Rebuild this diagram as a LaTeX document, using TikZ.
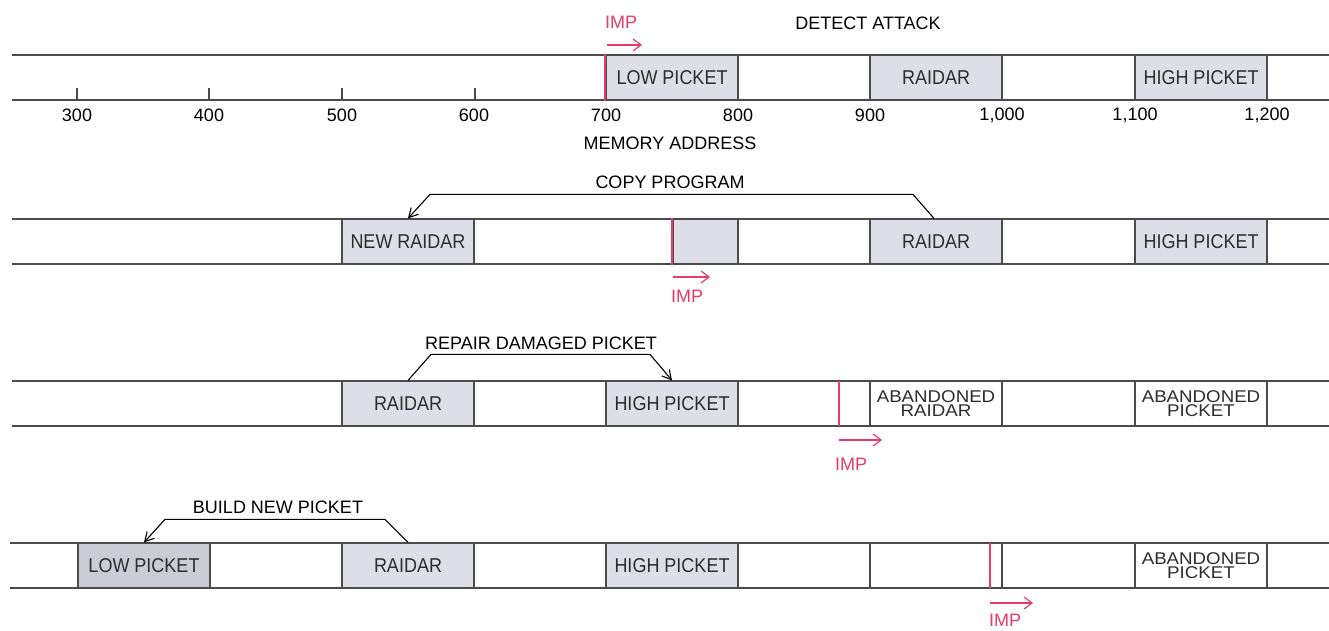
\documentclass[tikz,border=0pt]{standalone}
\usepackage{fontspec}
\setmainfont{Liberation Sans}
\newfontfamily\boxfont[FakeStretch=0.9]{Liberation Sans}
\newfontfamily\widefont[FakeStretch=1.1]{Liberation Sans}
\usetikzlibrary{arrows.meta,calc}
\definecolor{boxgrey}{RGB}{222,222,232}
\definecolor{darkboxgrey}{RGB}{204,204,214}
\definecolor{impred}{RGB}{230,60,105}
\definecolor{linegrey}{RGB}{75,75,75}
\definecolor{boxtext}{RGB}{45,45,45}
\tikzset{
  strip/.style={draw=linegrey, line width=1.2pt},
  cell/.style={draw=linegrey, line width=1.2pt, minimum width=132pt, minimum height=45pt,
    inner sep=0pt, font=\boxfont\fontsize{20}{20}\selectfont, text=boxtext},
  full/.style={cell, fill=boxgrey},
  wide/.style={font=\widefont\fontsize{17}{14.5}\selectfont, align=center},
  lbl/.style={font=\fontsize{18}{20}\selectfont, inner sep=0pt, text=black},
  implbl/.style={font=\fontsize{18}{20}\selectfont, inner sep=0pt, text=impred},
  impline/.style={draw=impred, line width=2pt},
  imparrow/.style={draw=impred, line width=1.2pt, -{Straight Barb[length=8pt,width=12pt]}},
  callout/.style={draw=black, line width=1.1pt, -{Straight Barb[length=9pt,width=10pt]}},
  tick/.style={draw=linegrey, line width=1.2pt}
}
\begin{document}
\begin{tikzpicture}[x=1pt,y=-1pt]
\useasboundingbox[fill=white] (0,0) rectangle (1329,631);

% ---------- Row 1 ----------
\draw[strip] (12,55) -- (1329,55);
\draw[strip] (12,100) -- (1329,100);
\node[full] (lp1) at (672,77.5) {LOW PICKET};
\node[full] (r1) at (936,77.5) {RAIDAR};
\node[full] (hp1) at (1201,77.5) {HIGH PICKET};
\draw[impline] (lp1.north west) -- (lp1.south west);
\foreach \x/\n in {77/t300,209/t400,342/t500,475/t600}{
  \coordinate (\n) at (\x,100);
  \draw[tick] (\n) -- ++(0,-12);
}
\foreach \x/\t/\n in {77/300/n300,209/400/n400,342/500/n500,474/600/n600,606/700/n700,738/800/n800,870/900/n900,1002/{1,000}/n1000,1135/{1,100}/n1100,1267/{1,200}/n1200}{
  \node[lbl] (\n) at (\x,115) {\t};
}
\node[lbl] (memaddr) at (670,143) {MEMORY ADDRESS};
\node[lbl] (detect) at (868,23) {DETECT ATTACK};
\coordinate (i1a) at (607,45);
\coordinate (i1b) at (642,45);
\draw[imparrow] (i1a) -- (i1b);
\node[implbl] (imp1) at (621,22) {IMP};

% ---------- Row 2 ----------
\draw[strip] (12,219) -- (1329,219);
\draw[strip] (12,264) -- (1329,264);
\node[full] (nr2) at (408,241.5) {NEW RAIDAR};
\node[full, minimum width=65pt] (part2) at (705.5,241.5) {};
\node[full] (r2) at (936,241.5) {RAIDAR};
\node[full] (hp2) at (1201,241.5) {HIGH PICKET};
\draw[impline] (part2.north west) -- (part2.south west);
\draw[callout] ($(r2.north)+(-2,0)$) -- ++(-21,-24) -- ($(nr2.north)+(22,-24)$) -- (nr2.north);
\node[lbl] (copy) at (670,182) {COPY PROGRAM};
\coordinate (i2a) at (673,277);
\coordinate (i2b) at (710,277);
\draw[imparrow] (i2a) -- (i2b);
\node[implbl] (imp2) at (687,296) {IMP};

% ---------- Row 3 ----------
\draw[strip] (12,381) -- (1329,381);
\draw[strip] (12,426) -- (1329,426);
\node[full] (r3) at (408,403.5) {RAIDAR};
\node[full] (hp3) at (672,403.5) {HIGH PICKET};
\node[cell, wide] (ar3) at (936,403.5) {ABANDONED\\RAIDAR};
\node[cell, wide] (ap3) at (1201,403.5) {ABANDONED\\PICKET};
\coordinate (imp3t) at (839,381);
\coordinate (imp3b) at (839,426);
\draw[impline] (imp3t) -- (imp3b);
\draw[callout] (r3.north) -- ++(23,-26) -- ($(hp3.north)+(-22,-26)$) -- (hp3.north);
\node[lbl] (repair) at (541,343) {REPAIR DAMAGED PICKET};
\coordinate (i3a) at (839,440);
\coordinate (i3b) at (882,440);
\draw[imparrow] (i3a) -- (i3b);
\node[implbl] (imp3) at (851,464) {IMP};

% ---------- Row 4 ----------
\draw[strip] (10,543) -- (1329,543);
\draw[strip] (10,588) -- (1329,588);
\node[full, fill=darkboxgrey] (lp4) at (144,565.5) {LOW PICKET};
\node[full] (r4) at (408,565.5) {RAIDAR};
\node[full] (hp4) at (672,565.5) {HIGH PICKET};
\node[cell] (e4) at (936,565.5) {};
\node[cell, wide] (ap4) at (1201,565.5) {ABANDONED\\PICKET};
\coordinate (imp4t) at (990,543);
\coordinate (imp4b) at (990,588);
\draw[impline] (imp4t) -- (imp4b);
\draw[callout] (r4.north) -- ++(-23,-23) -- ($(lp4.north)+(21,-23)$) -- (lp4.north);
\node[lbl] (build) at (278,507) {BUILD NEW PICKET};
\coordinate (i4a) at (990,603);
\coordinate (i4b) at (1033,603);
\draw[imparrow] (i4a) -- (i4b);
\node[implbl] (imp4) at (1005,620) {IMP};
\end{tikzpicture}
\end{document}
